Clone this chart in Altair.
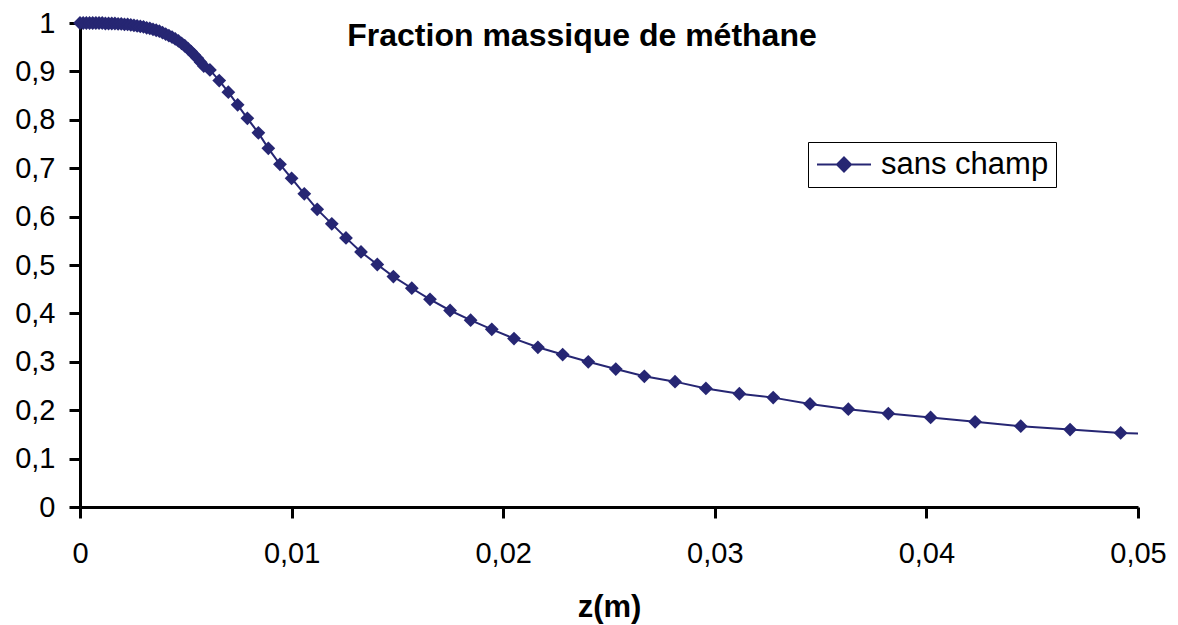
import altair as alt
import pandas as pd

title_text = "Fraction massique de méthane"
x_title = "z(m)"
series_name = "sans champ"

# dense near-inlet points
z_dense = [0, 0.00015, 0.0003, 0.00045, 0.0006, 0.00075, 0.0009, 0.00105, 0.0012, 0.00135,
           0.0015, 0.00165, 0.0018, 0.00195, 0.0021, 0.00225, 0.0024, 0.00255, 0.0027, 0.00285,
           0.003, 0.00315, 0.0033, 0.00345, 0.0036, 0.00375, 0.0039, 0.00405, 0.0042, 0.00435,
           0.0045, 0.00465, 0.0048, 0.00495, 0.0051, 0.00525, 0.0054, 0.00555, 0.0057, 0.00585]
w_dense = [1.000, 1.000, 1.000, 1.000, 1.000, 1.000, 1.000, 1.000, 0.999, 0.999,
           0.999, 0.999, 0.998, 0.998, 0.997, 0.997, 0.996, 0.995, 0.994, 0.993,
           0.992, 0.990, 0.989, 0.987, 0.985, 0.983, 0.980, 0.977, 0.974, 0.971,
           0.967, 0.963, 0.958, 0.953, 0.947, 0.941, 0.934, 0.927, 0.919, 0.911]

# spaced points
z_spaced = [0.00614, 0.00658, 0.00701, 0.00745, 0.00791, 0.00843, 0.00890, 0.00945, 0.01000, 0.01060,
            0.01121, 0.01190, 0.01257, 0.01328, 0.01405, 0.01481, 0.01568, 0.01654, 0.01749, 0.01846,
            0.01946, 0.02051, 0.02164, 0.02281, 0.02402, 0.02532, 0.02667, 0.02812, 0.02958, 0.03116,
            0.03276, 0.03450, 0.03631, 0.03820, 0.04020, 0.04230, 0.04446, 0.04679, 0.04918, 0.05038]
w_spaced = [0.903, 0.881, 0.857, 0.831, 0.803, 0.773, 0.741, 0.708, 0.679, 0.647,
            0.615, 0.585, 0.556, 0.527, 0.501, 0.476, 0.452, 0.429, 0.406, 0.386,
            0.367, 0.348, 0.330, 0.315, 0.300, 0.285, 0.270, 0.259, 0.245, 0.234,
            0.226, 0.213, 0.202, 0.193, 0.185, 0.176, 0.167, 0.160, 0.153, 0.151]

x_ticks = [0, 0.01, 0.02, 0.03, 0.04, 0.05]
y_ticks = [0, 0.1, 0.2, 0.3, 0.4, 0.5, 0.6, 0.7, 0.8, 0.9, 1]

navy = "#262673"
FONT = "Liberation Sans"

df = pd.DataFrame({
    "z": z_dense + z_spaced,
    "w": w_dense + w_spaced,
    "serie": [series_name] * (len(z_dense) + len(z_spaced)),
})

xenc = alt.X("z:Q", scale=alt.Scale(domain=[0, 0.05], nice=False, zero=True),
             axis=alt.Axis(values=x_ticks, title=x_title, grid=False, labelFlush=False,
                           labelExpr="replace(format(datum.value, '~g'), '.', ',')",
                           labelFontSize=29, labelPadding=44, labelBaseline="alphabetic",
                           tickSize=11, titleFontSize=31, titleFontWeight="bold",
                           titleY=109, titleBaseline="alphabetic",
                           domainColor="black", domainWidth=3, tickColor="black", tickWidth=3,
                           labelFont=FONT, titleFont=FONT, labelColor="black", titleColor="black"))
yenc = alt.Y("w:Q", scale=alt.Scale(domain=[0, 1], nice=False),
             axis=alt.Axis(values=y_ticks, title=None, grid=False, labelFlush=False,
                           labelExpr="replace(format(datum.value, '~g'), '.', ',')",
                           labelFontSize=29, labelPadding=14, tickSize=11,
                           domainColor="black", domainWidth=3, tickColor="black", tickWidth=3,
                           labelFont=FONT, labelColor="black"))

legend_path = "M-1,0L3,0M1,-0.52L1.52,0L1,0.52L0.48,0Z"
color = alt.Color("serie:N", scale=alt.Scale(range=[navy]),
                  legend=alt.Legend(title=None, orient="none", legendX=728, legendY=119,
                                    symbolType=legend_path, symbolSize=729,
                                    symbolStrokeWidth=2, symbolFillColor=navy,
                                    labelFontSize=31, labelFont=FONT, labelColor="black",
                                    labelLimit=400,
                                    labelOffset=35, padding=7, strokeColor="black",
                                    fillColor="white"))

line = alt.Chart(df).mark_line(strokeWidth=2, clip=True).encode(x=xenc, y=yenc, color=color)
points = alt.Chart(df).transform_filter("datum.z <= 0.05").mark_point(
    shape="diamond", filled=True, size=190, opacity=1).encode(x=xenc, y=yenc, color=color)

title_df = pd.DataFrame({"t": [title_text]})
title = alt.Chart(title_df).mark_text(font=FONT, fontSize=32, fontWeight="bold",
                                      color="black", baseline="middle", align="center").encode(
    x=alt.value(502), y=alt.value(13), text="t:N")

chart = alt.layer(line, points, title).properties(
    width=1058, height=484,
    autosize=alt.AutoSizeParams(type="none"),
    padding={"left": 72, "top": 15, "right": 32, "bottom": 117},
).configure_view(stroke=None)

chart.save("out.html", embed_options={"renderer": "svg", "actions": False})
